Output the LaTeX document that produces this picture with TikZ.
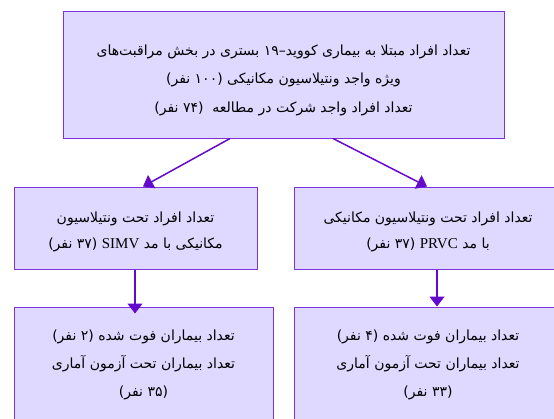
\documentclass[tikz,border=0pt]{standalone}
\usepackage{fontspec}
\usetikzlibrary{arrows.meta}
\TeXXeTstate=1
\newfontfamily\arabicfont[Script=Arabic]{DejaVu Sans}
\newfontfamily\latinfont{Liberation Serif}
\definecolor{boxfill}{RGB}{224,217,255}
\definecolor{boxline}{RGB}{125,50,220}
\definecolor{arrcol}{RGB}{100,10,205}
\tikzset{
  box/.style={draw=boxline, fill=boxfill, line width=1pt, inner sep=0pt},
  txt/.style={inner sep=0pt, align=center, text=black, font=\arabicfont\fontsize{14}{28.5}\selectfont},
  arr/.style={draw=arrcol, line width=1.5pt, -{Triangle[width=15pt,length=10pt]}},
}
\newcommand{\lat}[1]{\beginL{\latinfont\fontsize{15}{28}\selectfont #1}\endL{}}
\begin{document}
\begin{tikzpicture}[x=1pt,y=-1pt]
\useasboundingbox (0,0) rectangle (554,418);
\clip (0,0) rectangle (554,418);
\node[box, minimum width=441pt, minimum height=127pt] (top) at (283.5,74.5) {};
\node[txt] (toptext) at ([yshift=-5.5pt]top.center)
  {\beginR تعداد افراد مبتلا به بیماری کووید–۱۹ بستری در بخش مراقبت‌های\endR\\
   \beginR ویژه واجد ونتیلاسیون مکانیکی (۱۰۰ نفر)\endR\\
   \beginR تعداد افراد واجد شرکت در مطالعه \ (۷۴ نفر)\endR};
\node[box, minimum width=243pt, minimum height=82pt] (ml) at (135.5,228) {};
\node[txt, font=\arabicfont\fontsize{14}{26}\selectfont] (mltext) at ([yshift=-3.5pt]ml.center)
  {\beginR تعداد افراد تحت ونتیلاسیون\endR\\
   \beginR مکانیکی با مد \lat{SIMV} (۳۷ نفر)\endR};
\node[box, minimum width=268pt, minimum height=82pt] (mr) at (428,228) {};
\node[txt, font=\arabicfont\fontsize{14}{26}\selectfont] (mrtext) at ([yshift=-3.5pt]mr.center)
  {\beginR تعداد افراد تحت ونتیلاسیون مکانیکی\endR\\
   \beginR با مد \lat{PRVC} (۳۷ نفر)\endR};
\node[box, minimum width=259pt, minimum height=112pt] (bl) at (143.5,363) {};
\node[txt, font=\arabicfont\fontsize{14}{28}\selectfont] (bltext) at ([yshift=-1.5pt]bl.center)
  {\beginR تعداد بیماران فوت شده (۲ نفر)\endR\\
   \beginR تعداد بیماران تحت آزمون آماری\endR\\
   \beginR (۳۵ نفر)\endR};
\node[box, minimum width=268pt, minimum height=112pt] (br) at (428,363) {};
\node[txt, font=\arabicfont\fontsize{14}{28}\selectfont] (brtext) at ([yshift=-1.5pt]br.center)
  {\beginR تعداد بیماران فوت شده (۴ نفر)\endR\\
   \beginR تعداد بیماران تحت آزمون آماری\endR\\
   \beginR (۳۳ نفر)\endR};
\coordinate (blin) at ([xshift=-8.5pt,yshift=-7pt]bl.north);
\draw[arr] ([xshift=-53.5pt]top.south) -- ([xshift=7.5pt]ml.north);
\draw[arr] ([xshift=49.5pt]top.south) -- ([xshift=-1pt]mr.north);
\draw[arr] ([xshift=-0.5pt]ml.south) -- (blin);
\draw[arr] ([xshift=9pt]mr.south) -- ([xshift=9pt]br.north);
\end{tikzpicture}
\end{document}
